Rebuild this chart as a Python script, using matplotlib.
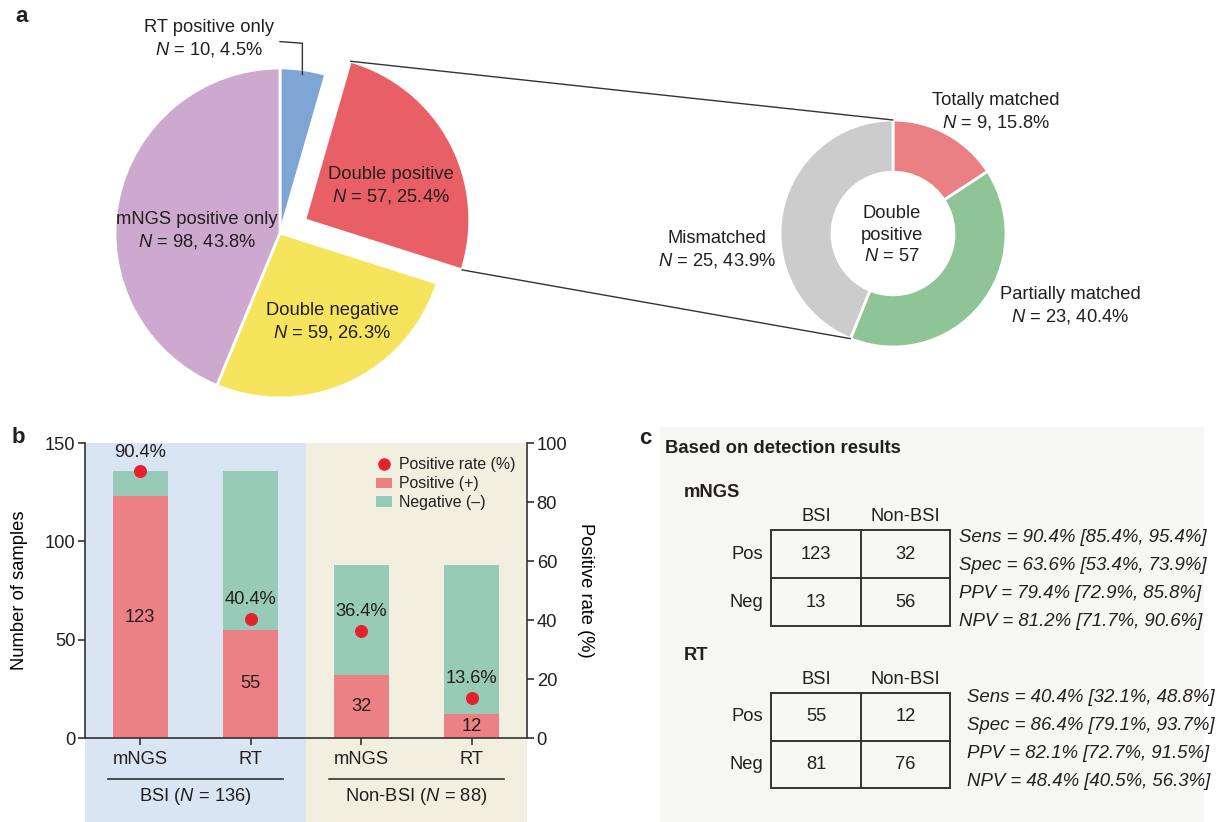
import numpy as np
import matplotlib.pyplot as plt
from matplotlib.patches import Rectangle, Patch, ConnectionPatch
from matplotlib.lines import Line2D
from matplotlib.transforms import blended_transform_factory

plt.rcParams['font.family'] = ['Liberation Sans', 'DejaVu Sans']
plt.rcParams['mathtext.fontset'] = 'custom'
plt.rcParams['mathtext.rm'] = 'Liberation Sans'
plt.rcParams['mathtext.it'] = 'Liberation Sans:italic'
plt.rcParams['font.size'] = 13.2
plt.rcParams['text.color'] = '#231f20'
plt.rcParams['axes.edgecolor'] = '#333333'
plt.rcParams['xtick.color'] = '#333333'
plt.rcParams['ytick.color'] = '#333333'
plt.rcParams['xtick.labelcolor'] = '#231f20'
plt.rcParams['ytick.labelcolor'] = '#231f20'

# a: overall agreement between mNGS and RT
pie_labels = ['RT positive only', 'Double positive', 'Double negative', 'mNGS positive only']
pie_counts = [10, 57, 59, 98]
pie_pcts = [4.5, 25.4, 26.3, 43.8]
pie_colors = ['#7fa5d5', '#e95f66', '#f6e55c', '#cda8cf']

# breakdown of the double positive samples
donut_labels = ['Totally matched', 'Partially matched', 'Mismatched']
donut_counts = [9, 23, 25]
donut_pcts = [15.8, 40.4, 43.9]
donut_colors = ['#ea8084', '#8fc596', '#cccccc']

# b: positives per method in each group
groups = ['BSI', 'Non-BSI']
group_n = [136, 88]
methods = ['mNGS', 'RT', 'mNGS', 'RT']
positive = [123, 55, 32, 12]
negative = [13, 81, 56, 76]
pos_rate = [90.4, 40.4, 36.4, 13.6]

# c: 2x2 tables (rows Pos/Neg, cols BSI/Non-BSI) and diagnostic stats
mngs_table = [[123, 32], [13, 56]]
rt_table = [[55, 12], [81, 76]]
stat_names = ['Sens', 'Spec', 'PPV', 'NPV']
mngs_stats = [(90.4, 85.4, 95.4), (63.6, 53.4, 73.9), (79.4, 72.9, 85.8), (81.2, 71.7, 90.6)]
rt_stats = [(40.4, 32.1, 48.8), (86.4, 79.1, 93.7), (82.1, 72.7, 91.5), (48.4, 40.5, 56.3)]

W, H = 1219, 822
fig = plt.figure(figsize=(W / 100, H / 100), dpi=100)


def px_axes(x0, y0, x1, y1):
    return fig.add_axes([x0 / W, 1 - y1 / H, (x1 - x0) / W, (y1 - y0) / H])


# ---- panel a: pie ----
ax_pie = px_axes(115, 68, 445, 398)
wedges, _ = ax_pie.pie(pie_counts, colors=pie_colors, startangle=90, counterclock=False,
                       explode=[0, 0.17, 0, 0],
                       wedgeprops=dict(edgecolor='white', linewidth=2))
ax_pie.set_xlim(-1, 1)
ax_pie.set_ylim(-1, 1)
ax_pie.set_aspect('auto')
ax_pie.axis('off')

# leader line for the small blue slice
w0 = wedges[0]
mid = np.deg2rad((w0.theta1 + w0.theta2) / 2)
xw, yw = 0.97 * np.cos(mid), 0.97 * np.sin(mid)
ax_pie.plot([xw, xw, 0.0], [yw, 1.15, 1.16], color='#333333', lw=1, clip_on=False)

# ---- panel a: donut ----
ax_don = px_axes(780, 120, 1006, 347)
dwedges, _ = ax_don.pie(donut_counts, colors=donut_colors, startangle=90, counterclock=False,
                        wedgeprops=dict(width=0.46, edgecolor='white', linewidth=2))
ax_don.set_xlim(-1, 1)
ax_don.set_ylim(-1, 1)
ax_don.set_aspect('auto')
ax_don.axis('off')

# lines from the exploded slice to the donut
red = wedges[1]
cx, cy = red.center
top_a = (cx + np.cos(np.deg2rad(red.theta2)), cy + np.sin(np.deg2rad(red.theta2)))
bot_a = (cx + np.cos(np.deg2rad(red.theta1)), cy + np.sin(np.deg2rad(red.theta1)))
top_b = (np.cos(np.deg2rad(dwedges[0].theta2)), np.sin(np.deg2rad(dwedges[0].theta2)))
bot_b = (np.cos(np.deg2rad(dwedges[2].theta2)), np.sin(np.deg2rad(dwedges[2].theta2)))
for pa, pb in [(top_a, top_b), (bot_a, bot_b)]:
    con = ConnectionPatch(xyA=pa, coordsA=ax_pie.transData, xyB=pb, coordsB=ax_don.transData,
                          color='#333333', lw=1)
    fig.add_artist(con)

# ---- panel b ----
ax_b = px_axes(85, 443, 527, 738)
x = np.arange(len(methods))
ax_b.set_xlim(-0.5, 3.5)
ax_b.set_ylim(0, 150)
tr = blended_transform_factory(ax_b.transData, ax_b.transAxes)
bg_bottom = -(H - 738) / 295
for i, c in enumerate(['#dae5f3', '#f3efe0']):
    ax_b.add_patch(Rectangle((2 * i - 0.5, bg_bottom), 2, 1 - bg_bottom, transform=tr,
                             facecolor=c, lw=0, zorder=0, clip_on=False))

pos_color, neg_color = '#ec8185', '#97cbb8'
ax_b.bar(x, positive, width=0.5, color=pos_color, zorder=2)
ax_b.bar(x, negative, width=0.5, bottom=positive, color=neg_color, zorder=2)
for xi, p in zip(x, positive):
    ax_b.text(xi, p / 2, str(p), ha='center', va='center', zorder=3)

ax_b.set_xticks(x)
ax_b.set_xticklabels(methods)
ax_b.set_yticks([0, 50, 100, 150])
ax_b.spines['top'].set_visible(False)
ax_b.spines['right'].set_visible(False)
for s in ax_b.spines.values():
    s.set_linewidth(1.2)
ax_b.tick_params(direction='out', length=5, width=1.2, labelsize=13.2, pad=2)
ax_b.tick_params(axis='x', pad=4)
ax_b.set_ylabel('Number of samples', fontsize=13.2)
ax_b.yaxis.set_label_coords(-0.129, 0.5)

for gi, (g, n) in enumerate(zip(groups, group_n)):
    gc = 2 * gi + 0.5
    ax_b.add_line(Line2D([gc - 0.79, gc + 0.79], [-0.139, -0.139], transform=tr,
                         color='#333333', lw=1.2, clip_on=False))
    ax_b.text(gc, -0.197, f'{g} ($N$ = {n})', transform=tr, ha='center', va='center')

ax2 = ax_b.twinx()
ax2.set_ylim(0, 100)
ax2.set_yticks(range(0, 101, 20))
for k in ['top', 'left', 'bottom']:
    ax2.spines[k].set_visible(False)
ax2.spines['right'].set_linewidth(1.2)
ax2.tick_params(direction='out', length=5, width=1.2, labelsize=13.2, pad=2)
ax2.set_ylabel('Positive rate (%)', rotation=270, fontsize=13.2)
ax2.yaxis.set_label_coords(1.152, 0.5)

ax2.scatter(x, pos_rate, s=70, color='#e3232c', zorder=4)
for xi, r in zip(x, pos_rate):
    ax2.annotate(f'{r}%', (xi, r), xytext=(0, 13.7), textcoords='offset points',
                 ha='center', va='center', zorder=4)

handles = [Line2D([], [], marker='o', ls='', color='#e3232c', markersize=8),
           Patch(facecolor=pos_color), Patch(facecolor=neg_color)]
ax2.legend(handles, ['Positive rate (%)', 'Positive (+)', 'Negative (\u2013)'],
           loc='upper left', bbox_to_anchor=(0.658, 0.952), frameon=False, fontsize=11.4,
           handlelength=1.0, handleheight=0.6, handletextpad=0.45, labelspacing=0.25,
           borderaxespad=0, borderpad=0)

# ---- overlay in pixel coordinates: labels and panel c ----
ov = fig.add_axes([0, 0, 1, 1])
ov.set_xlim(0, W)
ov.set_ylim(H, 0)
ov.axis('off')

for lab, xy in zip(['a', 'b', 'c'], [(22, 17), (18, 437), (645, 438)]):
    ov.text(*xy, lab, fontsize=16, fontweight='bold', ha='center', va='center')

pie_text_xy = [(209, 39), (391, 186), (332, 322), (197, 231)]
for lab, n, pc, xy in zip(pie_labels, pie_counts, pie_pcts, pie_text_xy):
    ov.text(*xy, f'{lab}\n$N$ = {n}, {pc}%', ha='center', va='center', linespacing=1.3)

donut_text_xy = [(996, 112), (1070, 306), (717, 250)]
for lab, n, pc, xy in zip(donut_labels, donut_counts, donut_pcts, donut_text_xy):
    ov.text(*xy, f'{lab}\n$N$ = {n}, {pc}%', ha='center', va='center', linespacing=1.3)
ov.text(892, 235, f'Double\npositive\n$N$ = {sum(donut_counts)}', ha='center', va='center',
        linespacing=1.35)

# panel c
ov.add_patch(Rectangle((660, 427), 544, 395, facecolor='#f6f6f5', lw=0, zorder=0))
ov.text(665, 448, 'Based on detection results', fontsize=13.3, fontweight='bold', va='center')


def draw_table(name, counts, stats, top, bottom, stats_x, stats_y0, stats_dy):
    x0, xm, x1 = 771, 861, 950
    ym = (top + bottom) / 2
    ov.text(684, top - 38, name, fontweight='bold', va='center')
    ov.text((x0 + xm) / 2, top - 14, 'BSI', ha='center', va='center')
    ov.text((xm + x1) / 2, top - 14, 'Non-BSI', ha='center', va='center')
    ov.add_patch(Rectangle((x0, top), x1 - x0, bottom - top, fill=False,
                           edgecolor='#333333', lw=1.4))
    ov.plot([xm, xm], [top, bottom], color='#333333', lw=1.4)
    ov.plot([x0, x1], [ym, ym], color='#333333', lw=1.4)
    for r, rl in enumerate(['Pos', 'Neg']):
        yc = top + (ym - top) * (r + 0.5)
        ov.text(763, yc, rl, ha='right', va='center')
        for c, xc in enumerate([(x0 + xm) / 2, (xm + x1) / 2]):
            ov.text(xc, yc, str(counts[r][c]), ha='center', va='center')
    for i, (sn, (v, lo, hi)) in enumerate(zip(stat_names, stats)):
        ov.text(stats_x, stats_y0 + i * stats_dy, f'{sn} = {v}% [{lo}%, {hi}%]',
                style='italic', va='center', fontsize=13.4)


draw_table('mNGS', mngs_table, mngs_stats, 530, 626, 959, 537, 28)
draw_table('RT', rt_table, rt_stats, 693, 788, 967, 697, 28.3)

fig.savefig('out.png', dpi=100)
